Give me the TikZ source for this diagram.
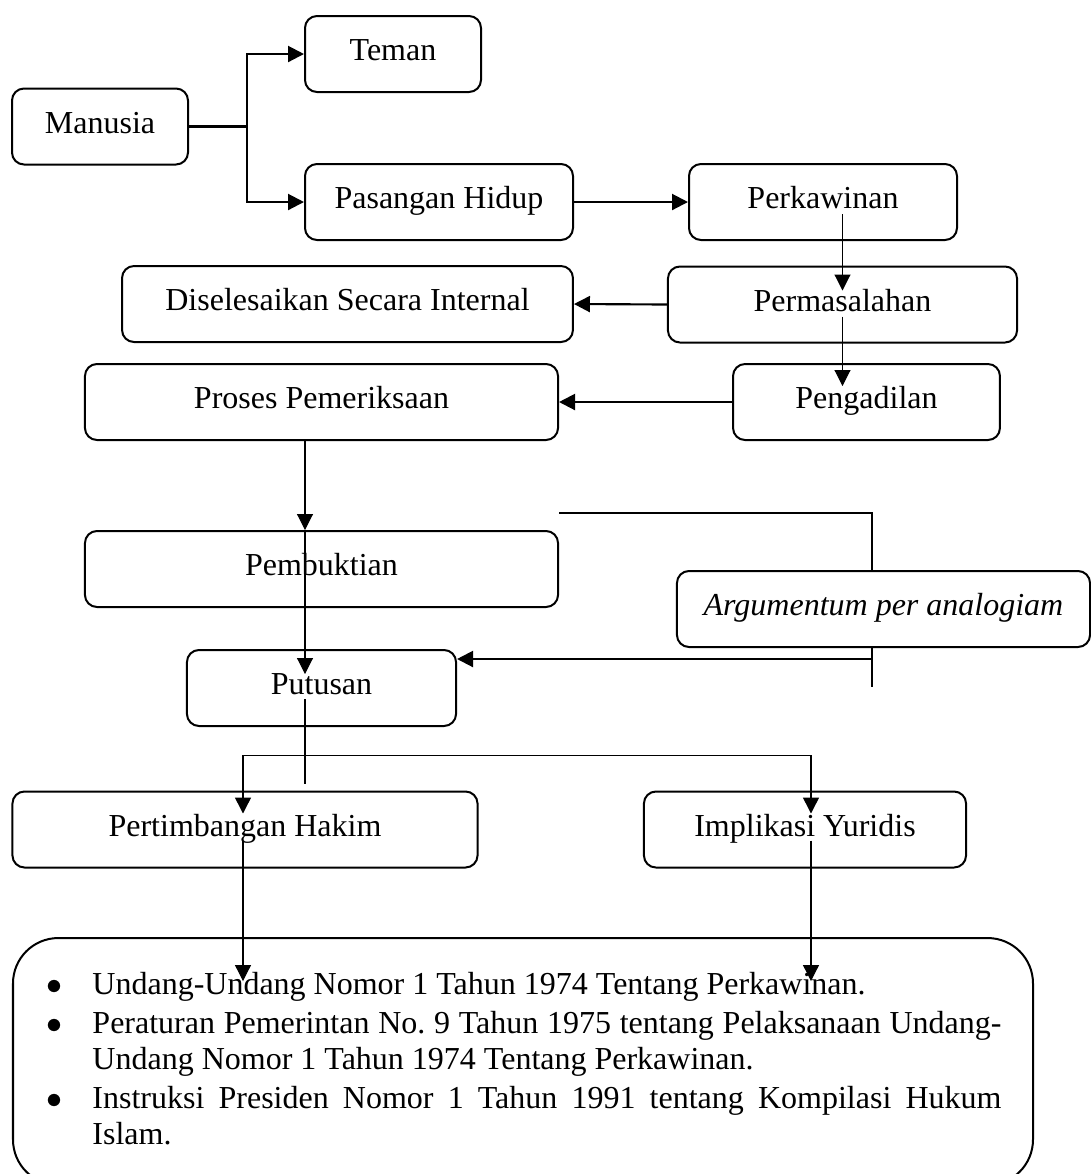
\documentclass[tikz,border=0pt]{standalone}
\usepackage{fontspec}
\setmainfont{Liberation Serif}
\usetikzlibrary{arrows.meta,calc}

\tikzset{
  kotak/.style={draw, rounded corners=4.5pt, line width=0.75pt,
                minimum height=28.5pt, inner sep=0pt,
                text height=8pt, text depth=3pt},
  tebal/.style={line width=0.8pt},
  sedang/.style={line width=0.55pt},
  tipis/.style={line width=0.4pt},
  panah/.style={-{Triangle[length=6pt,width=6pt]}},
  panahdua/.style={{Triangle[length=6pt,width=6pt]}-{Triangle[length=6pt,width=6pt]}}
}
\newcommand{\butir}[1]{\par\hangindent=17.6pt\hangafter=1\noindent
  \makebox[17.6pt][l]{\hspace{0.3pt}$\bullet$}#1}

\begin{document}
\begin{tikzpicture}[x=0.375pt,y=-0.375pt,font=\fontsize{12}{13.5}\selectfont]
\path [use as bounding box,clip] (0,0) rectangle (1091,1174);

\node [kotak,minimum width=66pt]    (manusia)    at (100,126.5)   {Manusia};
\node [kotak,minimum width=66pt]    (teman)      at (393,54)      {Teman};
\node [kotak,minimum width=100.5pt] (pasangan)   at (439,202)     {Pasangan Hidup};
\node [kotak,minimum width=100.5pt] (perkawinan) at (823,202)     {Perkawinan};
\node [kotak,minimum width=169.1pt] (internal)   at (347.5,304)   {Diselesaikan Secara Internal};
\node [kotak,minimum width=130.9pt] (masalah)    at (842.5,304.5) {Permasalahan};
\node [kotak,minimum width=177.4pt] (proses)     at (321.5,402)   {Proses Pemeriksaan};
\node [kotak,minimum width=100.1pt] (pengadilan) at (866.5,402)   {Pengadilan};
\node [kotak,minimum width=177.4pt] (bukti)      at (321.5,569)   {Pembuktian};
\node [kotak,minimum width=154.9pt] (analogi)    at (883.5,609)   {\itshape Argumentum per analogiam};
\node [kotak,minimum width=100.9pt] (putusan)    at (321.5,688)   {Putusan};
\node [kotak,minimum width=174.4pt] (hakim)      at (245,829.5)   {Pertimbangan Hakim};
\node [kotak,minimum width=120.8pt] (yuridis)    at (805,829.5)   {Implikasi Yuridis};

% dasar hukum
\node [draw,line width=0.75pt,rounded corners=17pt,
       minimum width=382.5pt,minimum height=92.6pt] (dasar) at (523,1061.5) {};
\node [anchor=north west,inner sep=0pt,text width=358.5pt,align=justify]
      (dasarteks) at (45,954) {%
\hyphenpenalty=10000\relax\setlength{\parskip}{1.3pt}\frenchspacing
\butir{Undang-Undang Nomor 1 Tahun 1974 Tentang Perkawinan.}
\butir{Peraturan Pemerintan No. 9 Tahun 1975 tentang Pelaksanaan Undang-\linebreak Undang Nomor 1 Tahun 1974 Tentang Perkawinan.}
\butir{Instruksi Presiden Nomor 1 Tahun 1991 tentang Kompilasi Hukum\linebreak Islam.}\par};

\coordinate (cabang) at ($(manusia.east)+(58,0)$);
\draw [tebal] (manusia.east) -- (cabang);
\draw [tebal,panah] (cabang) |- (teman.west);
\draw [tebal,panah] (cabang) |- (pasangan.west);
\draw [tebal,panah] (pasangan.east) -- (perkawinan.west);

\draw [tipis,panah] ($(perkawinan.south -| masalah.center)+(0,-27)$) --
    ($(masalah.north)+(0,25)$);
\draw [tebal,panah] (masalah.west) -- (internal.east);
\draw [tipis,panah] ($(masalah.center)+(0,12)$) --
    ($(pengadilan.north -| masalah.center)+(0,23)$);
\draw [tebal,panah] (pengadilan.west) -- (proses.east);

\draw [tipis,panah] ($(proses.south)+(-16.5,0)$) -- ($(bukti.north)+(-16.5,0)$);
\draw [tipis,panah] ($(bukti.north)+(-16.5,0)$) -- ($(putusan.north)+(-16.5,25)$);

% argumentum per analogiam
\coordinate (ujung)   at ($(bukti.north east)+(0,-17)$);
\coordinate (aatas)   at ($(analogi.north)+(-11.5,0)$);
\coordinate (abawah)  at ($(analogi.south)+(-11.5,0)$);
\coordinate (aekor)   at ($(abawah)+(0,39)$);
\coordinate (atengah) at ($(abawah)+(0,11)$);
\draw [sedang] (ujung) -| (aatas);
\draw [sedang] (abawah) -- (aekor);
\draw [tebal,panah] (atengah) -- (atengah -| putusan.east);

% putusan ke pertimbangan dan implikasi
\coordinate (patas)  at ($(putusan.center)+(-16.5,11)$);
\coordinate (pbawah) at ($(hakim.north -| patas)+(0,-7)$);
\coordinate (bkiri)  at ($(hakim.north)+(-2,-35)$);
\coordinate (bkanan) at ($(yuridis.north)+(6,-35)$);
\draw [tipis] (patas) -- (pbawah);
\draw [sedang,panahdua] ($(hakim.north)+(-2,23)$) -- (bkiri) -- (bkanan) --
    ($(yuridis.north)+(6,23)$);

\draw [tipis,panah] ($(hakim.center)+(-2,11)$) --
    ($(dasar.north -| hakim.center)+(-2,44)$);
\draw [tipis,panah] ($(yuridis.center)+(6,11)$) --
    ($(dasar.north -| yuridis.center)+(6,44)$);
\end{tikzpicture}
\end{document}
